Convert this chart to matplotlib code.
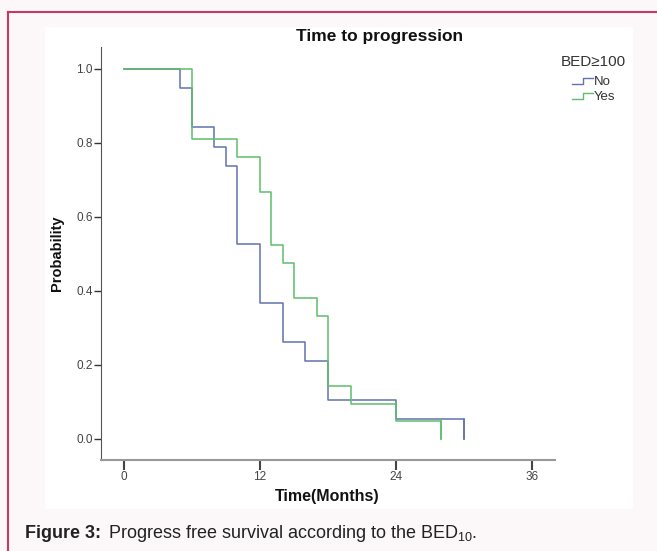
import matplotlib
matplotlib.use("Agg")
import matplotlib.pyplot as plt
from matplotlib.legend_handler import HandlerBase
from matplotlib.lines import Line2D
from matplotlib.patches import Rectangle

plt.rcParams["font.family"] = ["Liberation Sans", "DejaVu Sans"]
plt.rcParams["mathtext.fontset"] = "custom"
plt.rcParams["mathtext.rm"] = "Liberation Sans"

# Kaplan-Meier steps (months, survival)
tempo_no = [0, 5, 6, 8, 9, 10, 12, 14, 16, 18, 24, 30]
surv_no = [1.0, 0.947, 0.842, 0.789, 0.737, 0.526, 0.368, 0.263, 0.211, 0.105, 0.053, 0.0]

tempo_yes = [0, 6, 10, 12, 13, 14, 15, 17, 18, 20, 24, 28]
surv_yes = [1.0, 0.810, 0.762, 0.667, 0.524, 0.476, 0.381, 0.333, 0.143, 0.095, 0.048, 0.0]

x_ticks = [0, 12, 24, 36]
y_ticks = [0.0, 0.2, 0.4, 0.6, 0.8, 1.0]

cor_no = "#6272ae"
cor_yes = "#5cbf6c"


class HandlerDegrau(HandlerBase):
    """Desenha o simbolo de degrau usado na legenda do SPSS."""

    def create_artists(self, legend, orig_handle, xdescent, ydescent,
                       width, height, fontsize, trans):
        xs = [0, width * 0.55, width * 0.55, width]
        ys = [height * 0.1, height * 0.1, height * 0.8, height * 0.8]
        linha = Line2D([x - xdescent for x in xs], [y - ydescent for y in ys],
                       color=orig_handle.get_color(), lw=1.0)
        linha.set_transform(trans)
        return [linha]


fig = plt.figure(figsize=(6.57, 5.51), dpi=100)
fig.patch.set_facecolor("#fcf8f9")

# painel branco e moldura
fig.patches.append(Rectangle((45 / 657, 1 - 509 / 551), 588 / 657, 482 / 551,
                             transform=fig.transFigure, facecolor="white",
                             edgecolor="none", zorder=-5))
fig.add_artist(Line2D([8 / 657, 8 / 657], [0, 1 - 12 / 551],
                      transform=fig.transFigure, color="#c73a5e", lw=1.5))
fig.add_artist(Line2D([8 / 657, 1], [1 - 12 / 551, 1 - 12 / 551],
                      transform=fig.transFigure, color="#c73a5e", lw=1.5))

ax = fig.add_axes([101 / 657, 1 - 460 / 551, 454 / 657, 413 / 551])
ax.set_facecolor("none")
ax.set_zorder(3)

ax.step(tempo_no, surv_no, where="post", color=cor_no, lw=1.1, label="No")
ax.step(tempo_yes, surv_yes, where="post", color=cor_yes, lw=1.1, label="Yes")
# linha final ate zero
ax.plot([tempo_no[-1]] * 2, [surv_no[-2], 0], color=cor_no, lw=1.1)
ax.plot([tempo_yes[-1]] * 2, [surv_yes[-2], 0], color=cor_yes, lw=1.1)

ax.set_xlim(-2.0, 38.0)
ax.set_ylim(-0.057, 1.059)
ax.set_xticks(x_ticks)
ax.set_yticks(y_ticks)
ax.set_yticklabels([f"{v:.1f}" for v in y_ticks])
ax.spines["top"].set_visible(False)
ax.spines["right"].set_visible(False)
ax.spines["left"].set_color("#555555")
ax.spines["bottom"].set_color("#999999")
ax.spines["bottom"].set_linewidth(1.5)
ax.tick_params(axis="y", length=5, width=1.0, color="#333333",
               labelsize=8.5, labelcolor="#444444", pad=1)
ax.tick_params(axis="x", length=7, width=1.5, color="#444444",
               labelsize=8.5, labelcolor="#444444", pad=1)

fig.text(380 / 657, 1 - 37 / 551, "Time to progression", ha="center",
         va="center", fontsize=12.5, fontweight="bold", color="#111111")
fig.text(57 / 657, 1 - 253 / 551, "Probability", rotation=90, ha="center",
         va="center", fontsize=10.5, fontweight="bold", color="#111111")
fig.text(327 / 657, 1 - 496 / 551, "Time(Months)", ha="center",
         va="center", fontsize=11.5, fontweight="bold", color="#111111")

fig.text(25 / 657, 1 - 534 / 551, "Figure 3:", ha="left", va="center",
         fontsize=13, fontweight="bold", color="#222222")
fig.text(108 / 657, 1 - 534 / 551, "Progress free survival according to the BED$_{10}$.",
         ha="left", va="center", fontsize=13, color="#222222")

handles, labels = ax.get_legend_handles_labels()
leg = fig.legend(handles, labels, title="BED\u2265100", loc="upper left",
                 bbox_to_anchor=(549 / 657, 1 - 43 / 551), frameon=False,
                 fontsize=9.5, title_fontsize=11, handlelength=1.6,
                 handletextpad=0.05, labelspacing=0.2,
                 handler_map={Line2D: HandlerDegrau()})
leg.get_title().set_color("#333333")
leg._legend_box.sep = 5
for t in leg.get_texts():
    t.set_color("#333333")

fig.savefig("out.png", dpi=100, facecolor=fig.get_facecolor())
